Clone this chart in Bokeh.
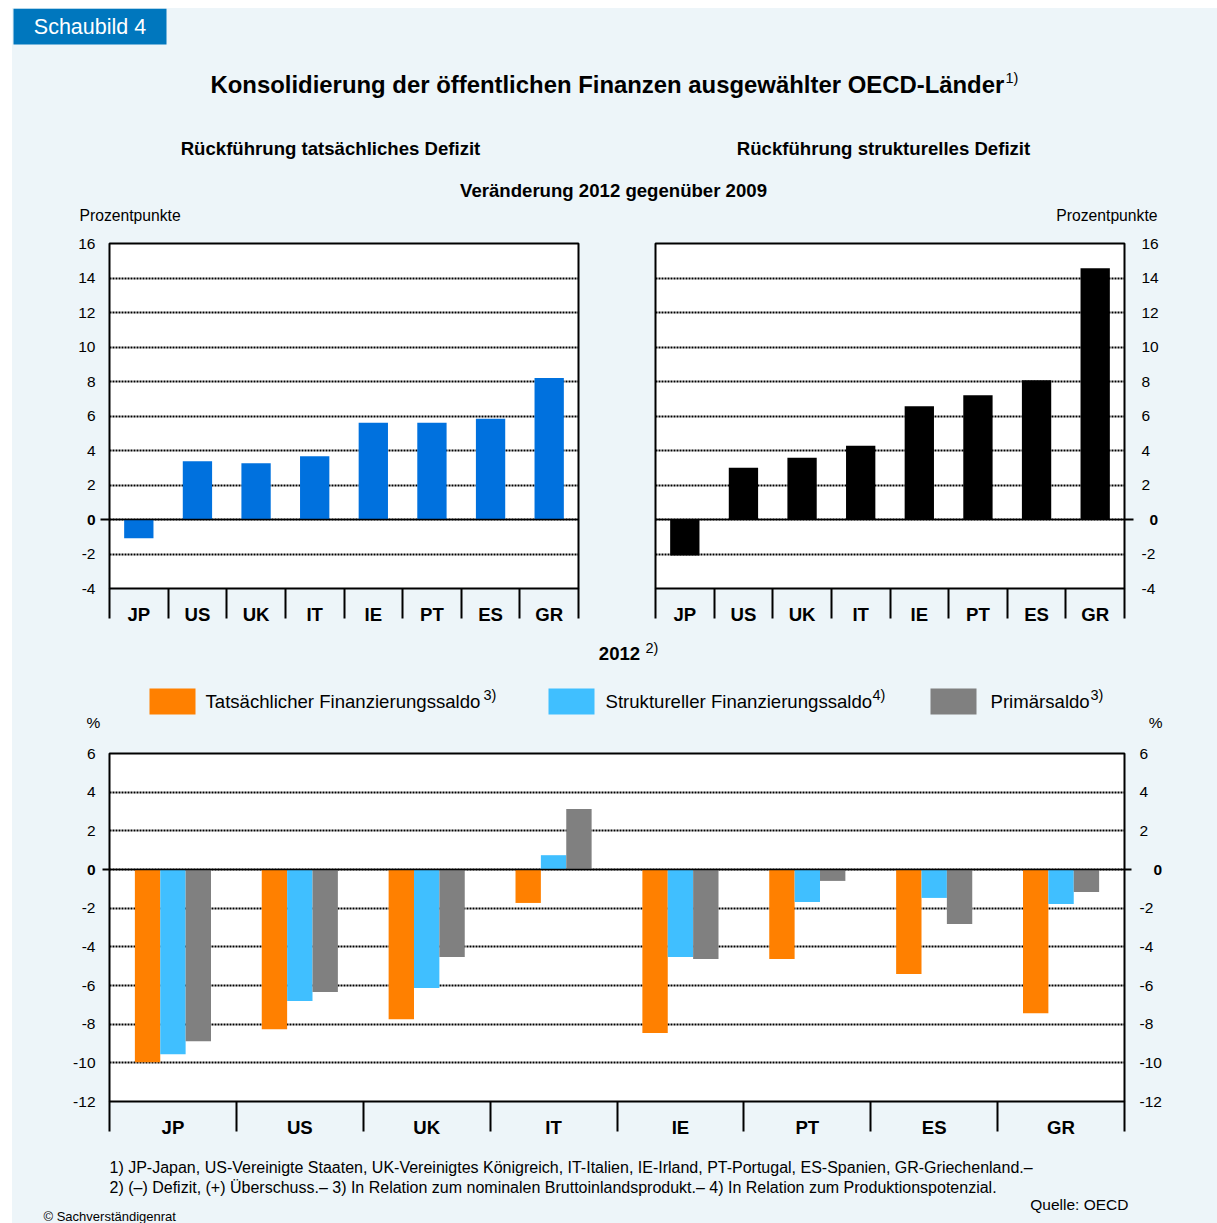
from bokeh.plotting import figure
from bokeh.layouts import column, row
from bokeh.models import Range1d, FixedTicker, LinearAxis, Span, ColumnDataSource
from bokeh.core.properties import value
from bokeh.transform import dodge
from bokeh.embed import file_html
from bokeh.resources import INLINE

# ---------------- data ----------------
countries = ["JP", "US", "UK", "IT", "IE", "PT", "ES", "GR"]
actual_deficit_change = [-1.09, 3.37, 3.26, 3.66, 5.61, 5.61, 5.84, 8.20]
structural_deficit_change = [-2.09, 3.00, 3.58, 4.27, 6.57, 7.20, 8.07, 14.56]
fin_saldo_2012 = [-9.97, -8.26, -7.74, -1.73, -8.46, -4.63, -5.41, -7.43]
struct_saldo_2012 = [-9.55, -6.80, -6.13, 0.74, -4.52, -1.68, -1.47, -1.78]
prim_saldo_2012 = [-8.88, -6.34, -4.52, 3.13, -4.63, -0.59, -2.82, -1.16]
top_ticks = [-4, -2, 0, 2, 4, 6, 8, 10, 12, 14, 16]
bottom_ticks = [-12, -10, -8, -6, -4, -2, 0, 2, 4, 6]
series_names = ["Tatsächlicher Finanzierungssaldo", "Struktureller Finanzierungssaldo", "Primärsaldo"]
series_notes = ["3)", "4)", "3)"]

# ---------------- style ----------------
BG = "#EDF5F9"
HEAD_BLUE = "#0077BE"
BAR_BLUE = "#0071DE"
ORANGE = "#FF8000"
LIGHTBLUE = "#40BFFF"
GREY = "#808080"
FONT = "Liberation Sans"
TICK_SIZE = "15.5px"

centers = [i + 0.5 for i in range(len(countries))]
bounds = list(range(len(countries) + 1))
cat_overrides = {c: n for c, n in zip(centers, countries)}


def text_fig(w, h, x0, y0):
    f = figure(width=w, height=h, x_range=Range1d(x0, x0 + w), y_range=Range1d(y0 + h, y0),
               output_backend="svg", toolbar_location=None, min_border=0,
               x_axis_location=None, y_axis_location=None)
    f.grid.visible = False
    f.outline_line_color = None
    f.background_fill_color = BG
    f.border_fill_color = BG
    return f


def put(f, x, y, t, size, bold=False, align="left", color="black"):
    f.text(x=[x], y=[y], text=[t], text_font=value(FONT), text_font_size=size,
           text_font_style="bold" if bold else "normal", text_align=align,
           text_baseline="middle", text_color=color)


def zero_axis(ax, tick_out, standoff):
    # inner axis: only the zero tick, bold label
    ax.ticker = FixedTicker(ticks=[0])
    ax.axis_line_color = None
    ax.major_tick_out = tick_out
    ax.major_tick_in = 0
    ax.major_tick_line_color = "black"
    ax.major_tick_line_width = 2
    ax.minor_tick_line_color = None
    ax.major_label_standoff = standoff
    ax.major_label_text_font = FONT
    ax.major_label_text_font_size = TICK_SIZE
    ax.major_label_text_font_style = "bold"
    ax.major_label_text_color = "black"
    ax.major_label_overrides = {0: "0"}


def value_axis(ax, ticks, standoff):
    # outer axis: the other tick labels, pulled back next to the frame
    others = [t for t in ticks if t != 0]
    ax.ticker = FixedTicker(ticks=others)
    ax.axis_line_color = None
    ax.major_tick_out = 0
    ax.major_tick_in = 0
    ax.major_tick_line_color = None
    ax.minor_tick_line_color = None
    ax.major_label_standoff = standoff
    ax.major_label_text_font = FONT
    ax.major_label_text_font_size = TICK_SIZE
    ax.major_label_text_color = "black"
    ax.major_label_overrides = {t: str(t) for t in others}


def style_x_axis(ax):
    ax.ticker = FixedTicker(ticks=centers, minor_ticks=bounds)
    ax.major_label_overrides = cat_overrides
    ax.axis_line_color = None
    ax.major_tick_out = 0
    ax.major_tick_in = 0
    ax.minor_tick_out = 30
    ax.minor_tick_in = 0
    ax.minor_tick_line_color = "black"
    ax.minor_tick_line_width = 2
    ax.major_label_standoff = -15
    ax.major_label_text_font = FONT
    ax.major_label_text_font_size = "18.6px"
    ax.major_label_text_font_style = "bold"
    ax.major_label_text_color = "black"


def chart(w, h, ml, mr, mt, mb, yr, ticks, side):
    p = figure(width=w, height=h, x_range=Range1d(0, len(countries)), y_range=Range1d(*yr),
               output_backend="svg", toolbar_location=None,
               min_border_left=ml, min_border_right=mr, min_border_top=mt, min_border_bottom=mb,
               y_axis_location=side)
    p.background_fill_color = "white"
    p.border_fill_color = BG
    p.outline_line_color = "black"
    p.outline_line_width = 2
    p.xgrid.visible = False
    p.ygrid.ticker = FixedTicker(ticks=ticks)
    p.ygrid.grid_line_color = "black"
    p.ygrid.grid_line_dash = "2 1"
    p.ygrid.grid_line_width = 2
    style_x_axis(p.xaxis[0])
    return p


# ---------------- header ----------------
header = text_fig(1205, 225, 12, 8)
header.quad(left=[13], right=[166], top=[8], bottom=[44], fill_color=HEAD_BLUE, line_color=None)
put(header, 89.5, 26, "Schaubild 4", "21.5px", align="center", color="white")
put(header, 210, 84, "Konsolidierung der öffentlichen Finanzen ausgewählter OECD-Länder", "23.9px", bold=True)
put(header, 1005, 77, "1)", "14.5px")
put(header, 330, 148, "Rückführung tatsächliches Defizit", "18.6px", bold=True, align="center")
put(header, 883, 148, "Rückführung strukturelles Defizit", "18.6px", bold=True, align="center")
put(header, 613, 190, "Veränderung 2012 gegenüber 2009", "18.6px", bold=True, align="center")
put(header, 79, 215, "Prozentpunkte", "15.7px")
put(header, 1157, 215, "Prozentpunkte", "15.7px", align="right")

# ---------------- top charts ----------------
src_top = ColumnDataSource(dict(x=centers, actual=actual_deficit_change, structural=structural_deficit_change,
                                country=countries))

p_left = chart(605, 395, 97, 39, 10, 38, (-4, 16), top_ticks, "left")
zero_axis(p_left.yaxis[0], 9, 5)
ax = LinearAxis()
value_axis(ax, top_ticks, -12)
p_left.add_layout(ax, "left")
p_left.vbar(x="x", top="actual", bottom=0, width=0.5, source=src_top, fill_color=BAR_BLUE, line_color=None)
p_left.add_layout(Span(location=0, dimension="width", line_color="black", line_width=1.5))

p_right = chart(600, 395, 38, 93, 8, 40, (-4, 16), top_ticks, "right")
zero_axis(p_right.yaxis[0], 9, 16)
ax = LinearAxis()
value_axis(ax, top_ticks, -20)
p_right.add_layout(ax, "right")
p_right.vbar(x="x", top="structural", bottom=0, width=0.5, source=src_top, fill_color="black", line_color=None)
p_right.add_layout(Span(location=0, dimension="width", line_color="black", line_width=1.5))

# ---------------- middle (2012 + legend) ----------------
mid = text_fig(1205, 112, 12, 628)
put(mid, 619, 653, "2012", "18.6px", bold=True, align="center")
put(mid, 645, 647, "2)", "14.5px")
sw_left = [149, 548, 930]
lbl_x = [205, 605, 990]
note_x = [483, 872, 1090]
for col, l, lx, nx, name, note in zip([ORANGE, LIGHTBLUE, GREY], sw_left, lbl_x, note_x, series_names, series_notes):
    mid.quad(left=[l], right=[l + 46], top=[688], bottom=[714], fill_color=col, line_color=None)
    put(mid, lx, 701, name, "18.6px")
    put(mid, nx, 694, note, "14.5px")
put(mid, 86, 722, "%", "15.5px")
put(mid, 1162, 722, "%", "15.5px", align="right")

# ---------------- bottom chart ----------------
src_bot = ColumnDataSource(dict(x=centers, fin=fin_saldo_2012, struct=struct_saldo_2012, prim=prim_saldo_2012,
                                country=countries))
p_bot = chart(1205, 400, 97, 93, 13, 38, (-12, 6), bottom_ticks, "left")
zero_axis(p_bot.yaxis[0], 7, 7)
r_inner = LinearAxis()
zero_axis(r_inner, 7, 22)
p_bot.add_layout(r_inner, "right")
l_outer = LinearAxis()
value_axis(l_outer, bottom_ticks, -12)
p_bot.add_layout(l_outer, "left")
r_outer = LinearAxis()
value_axis(r_outer, bottom_ticks, -26)
p_bot.add_layout(r_outer, "right")
for key, off, col in [("fin", -0.2, ORANGE), ("struct", 0.0, LIGHTBLUE), ("prim", 0.2, GREY)]:
    p_bot.vbar(x=dodge("x", off, range=p_bot.x_range), top=key, bottom=0, width=0.2, source=src_bot,
               fill_color=col, line_color=None)
p_bot.add_layout(Span(location=0, dimension="width", line_color="black", line_width=1.5))

# ---------------- footer ----------------
foot = text_fig(1205, 83, 12, 1140)
put(foot, 109, 1167, "1) JP-Japan, US-Vereinigte Staaten, UK-Vereinigtes Königreich, IT-Italien, IE-Irland, "
                     "PT-Portugal, ES-Spanien, GR-Griechenland.–", "16px")
put(foot, 109, 1187, "2) (–) Defizit, (+) Überschuss.– 3) In Relation zum nominalen Bruttoinlandsprodukt.– "
                     "4) In Relation zum Produktionspotenzial.", "16px")
put(foot, 1128, 1204, "Quelle: OECD", "15.5px", align="right")
put(foot, 43, 1216, "© Sachverständigenrat", "13px")

bgs = {"background-color": BG}
layout = column(row(header, styles=bgs), row(p_left, p_right, styles=bgs), row(mid, styles=bgs),
                row(p_bot, styles=bgs), row(foot, styles=bgs), margin=(8, 0, 0, 12), styles=bgs)
open("out.html", "w").write(file_html(layout, INLINE))
